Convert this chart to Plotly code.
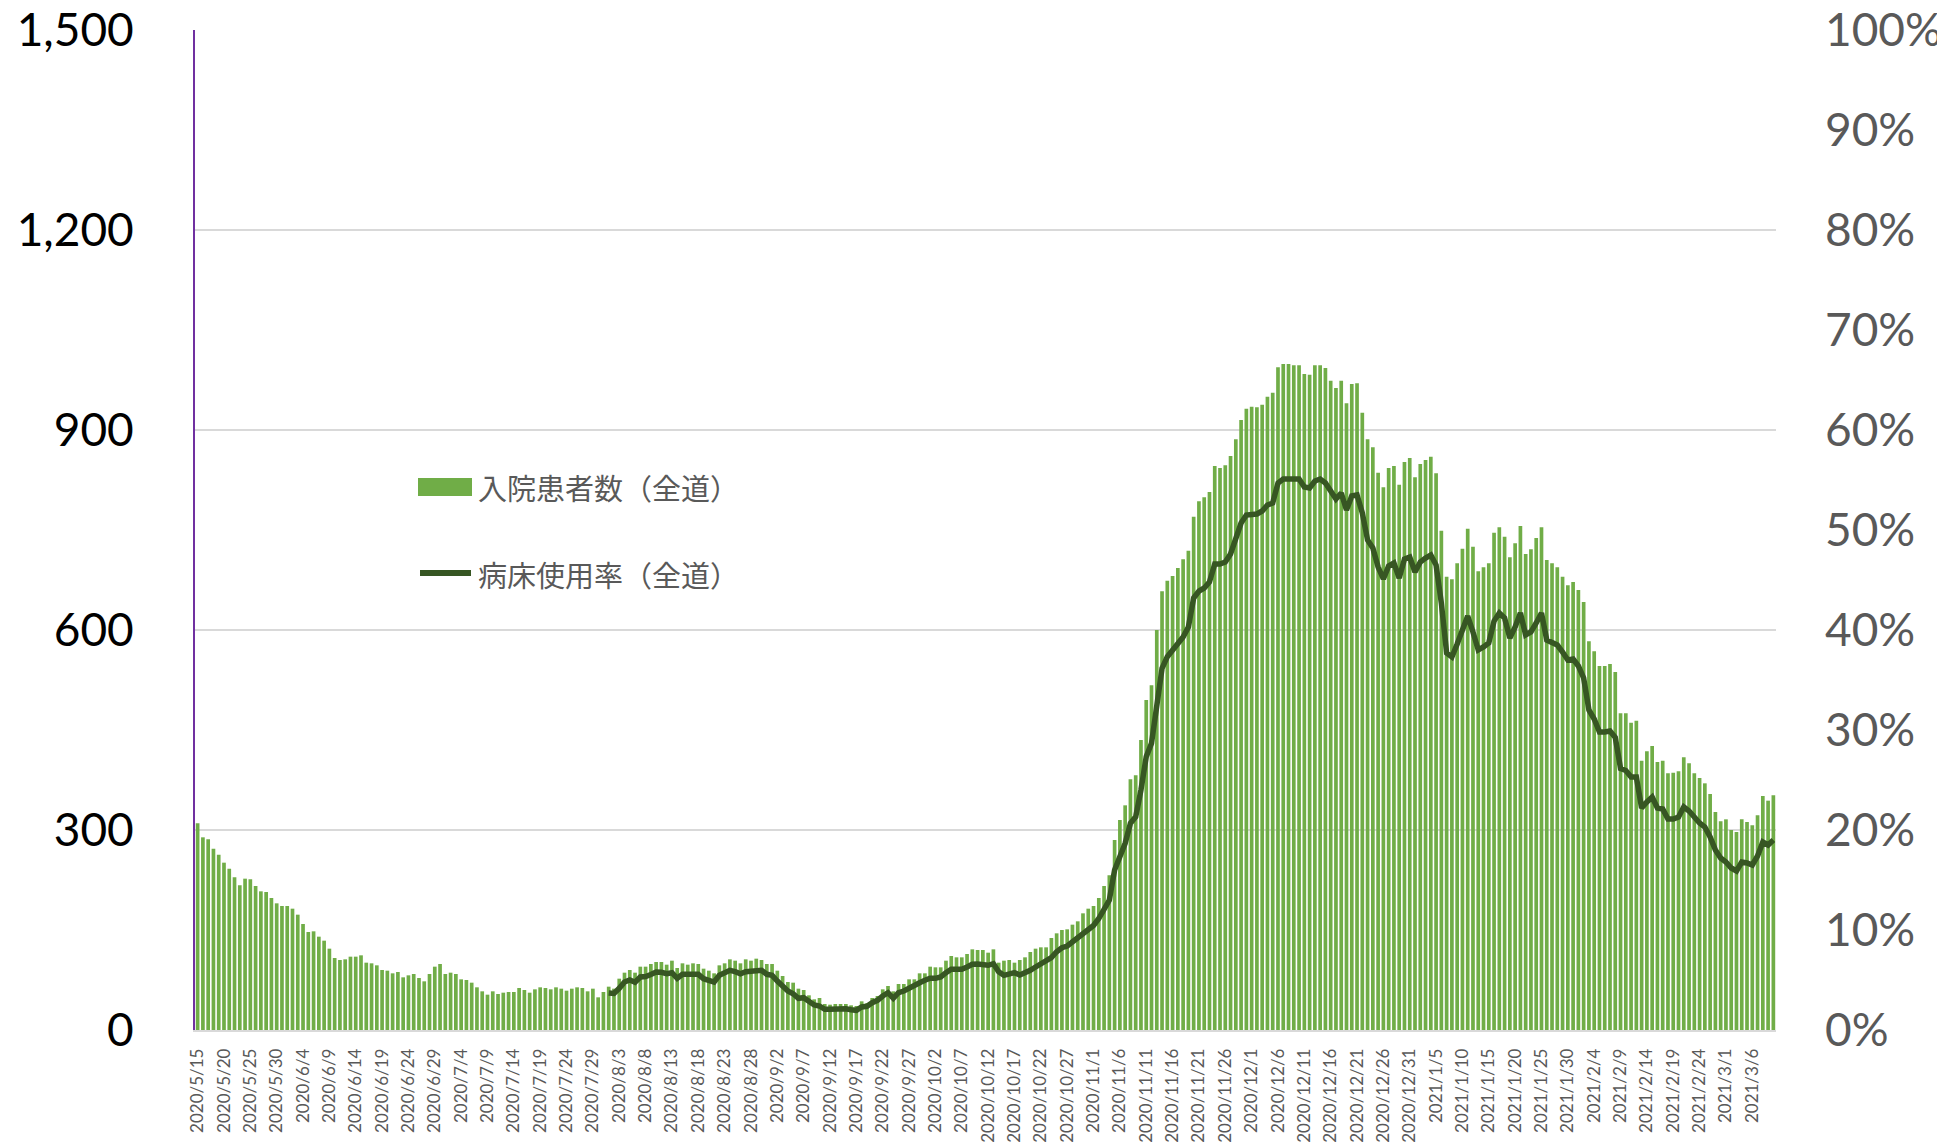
import pandas as pd
import plotly.graph_objects as go

# ---- data ----
dates = pd.date_range("2020-05-15", "2021-03-10", freq="D")
categories = [f"{d.year}/{d.month}/{d.day}" for d in dates]
tick_labels = categories[::5]

inpatients = [
    310, 289, 286, 272, 263, 251, 242, 229, 217, 227,
    226, 216, 208, 207, 198, 190, 186, 186, 182, 173,
    159, 147, 148, 140, 134, 122, 108, 105, 106, 110,
    110, 112, 101, 100, 97, 90, 89, 85, 87, 79,
    82, 84, 78, 73, 84, 95, 99, 84, 86, 84,
    76, 75, 71, 64, 58, 53, 58, 54, 56, 57,
    57, 63, 60, 56, 61, 64, 63, 61, 64, 62,
    59, 62, 64, 63, 58, 62, 49, 57, 65, 62,
    77, 86, 90, 86, 95, 95, 99, 102, 102, 98,
    104, 93, 100, 98, 100, 99, 92, 89, 85, 97,
    100, 106, 104, 100, 106, 104, 107, 105, 99, 99,
    89, 81, 72, 71, 62, 60, 52, 46, 48, 39,
    38, 39, 39, 39, 37, 36, 43, 40, 48, 51,
    61, 66, 58, 69, 69, 76, 76, 85, 85, 95,
    94, 94, 104, 111, 109, 109, 114, 121, 120, 120,
    116, 121, 101, 104, 105, 101, 105, 109, 117, 122,
    124, 124, 138, 145, 150, 151, 158, 163, 175, 182,
    186, 198, 216, 232, 285, 315, 337, 376, 382, 435,
    495, 517, 600, 658, 674, 681, 693, 706, 719, 770,
    793, 799, 807, 846, 843, 847, 861, 886, 915, 932,
    935, 934, 938, 950, 956, 994, 999, 999, 997, 997,
    984, 983, 997, 997, 993, 974, 963, 974, 940, 969,
    970, 926, 886, 874, 836, 814, 843, 846, 818, 852,
    858, 829, 849, 855, 860, 835, 749, 680, 676, 700,
    722, 752, 725, 688, 694, 700, 746, 754, 740, 709,
    730, 756, 714, 721, 738, 754, 705, 700, 694, 680,
    667, 672, 660, 642, 583, 568, 546, 546, 549, 537,
    475, 475, 461, 464, 404, 418, 426, 402, 404, 385,
    386, 388, 409, 400, 385, 378, 370, 354, 327, 313,
    316, 300, 297, 316, 312, 307, 322, 351, 344, 352,
]

bed_rate_pct = [None] * 78 + [
    3.7, 3.65,
    4.17, 4.8, 5.0, 4.77, 5.3, 5.35, 5.55, 5.8, 5.77, 5.63,
    5.73, 5.17, 5.57, 5.57, 5.57, 5.57, 5.13, 4.97, 4.8, 5.47,
    5.67, 5.97, 5.83, 5.63, 5.83, 5.9, 5.87, 5.97, 5.57, 5.47,
    4.9, 4.4, 3.9, 3.63, 3.17, 3.23, 2.9, 2.5, 2.4, 2.07,
    2.07, 2.13, 2.17, 2.13, 2.03, 1.97, 2.3, 2.37, 2.73, 2.97,
    3.4, 3.73, 3.17, 3.73, 3.9, 4.23, 4.5, 4.73, 4.97, 5.17,
    5.17, 5.3, 5.73, 6.07, 6.07, 6.07, 6.3, 6.57, 6.6, 6.57,
    6.47, 6.63, 5.83, 5.47, 5.63, 5.73, 5.5, 5.67, 5.97, 6.3,
    6.63, 6.8, 7.25, 7.83, 8.23, 8.4, 8.83, 9.17, 9.7, 10.1,
    10.45, 11.15, 12.17, 13.0, 16.0, 17.33, 18.67, 20.67, 21.33, 24.0,
    27.33, 28.67, 32.67, 36.17, 37.33, 38.0, 38.8, 39.3, 40.3, 43.2,
    43.9, 44.2, 44.8, 46.6, 46.6, 46.8, 47.6, 49.2, 50.7, 51.5,
    51.6, 51.6, 51.9, 52.5, 52.7, 54.7, 55.1, 55.1, 55.1, 55.1,
    54.3, 54.2, 54.9, 55.1, 54.7, 53.8, 53.1, 53.7, 52.0, 53.4,
    53.5, 51.7, 49.0, 48.2, 46.3, 45.1, 46.4, 46.7, 45.2, 47.1,
    47.3, 45.8, 46.8, 47.2, 47.5, 46.5, 42.7, 37.7, 37.3, 38.6,
    39.9, 41.4, 39.8, 38.0, 38.3, 38.7, 40.9, 41.7, 41.2, 39.2,
    40.3, 41.7, 39.5, 39.8, 40.7, 41.7, 39.0, 38.8, 38.5, 37.8,
    37.0, 37.1, 36.4, 35.2, 32.0, 31.1, 29.8, 29.8, 29.9, 29.25,
    26.15, 25.95, 25.3, 25.3, 22.2, 22.8, 23.3, 22.2, 22.1, 21.1,
    21.1, 21.3, 22.3, 21.9, 21.2, 20.7, 20.3, 19.3, 18.0, 17.2,
    16.8, 16.2, 15.9, 16.8, 16.7, 16.5, 17.4, 18.8, 18.5, 19.0,
]

left_ticks = [0, 300, 600, 900, 1200, 1500]
left_tick_text = ["0", "300", "600", "900", "1,200", "1,500"]
right_ticks = [0, 10, 20, 30, 40, 50, 60, 70, 80, 90, 100]
right_tick_text = ["0%", "10%", "20%", "30%", "40%", "50%",
                   "60%", "70%", "80%", "90%", "100%"]

series_names = ["入院患者数（全道）", "病床使用率（全道）"]

BAR_COLOR = "#70AD47"
LINE_COLOR = "#375623"
GRAY = "#595959"

fig = go.Figure()
fig.add_trace(go.Bar(
    x=categories, y=inpatients, name=series_names[0],
    marker=dict(color=BAR_COLOR, line=dict(width=0)),
    showlegend=False, yaxis="y",
))
fig.add_trace(go.Scatter(
    x=categories, y=bed_rate_pct, name=series_names[1], mode="lines",
    line=dict(color=LINE_COLOR, width=5.5), connectgaps=False,
    showlegend=False, yaxis="y2",
))

# manual legend (paper coords)
L, R, T, B = 195, 1776, 30, 1030
def px(x):
    return (x - L) / (R - L)
def py(y):
    return (B - y) / (B - T)

fig.add_shape(type="rect", xref="paper", yref="paper",
              x0=px(418), x1=px(472), y0=py(496), y1=py(478),
              fillcolor=BAR_COLOR, line=dict(width=0))
fig.add_shape(type="line", xref="paper", yref="paper",
              x0=px(420), x1=px(471), y0=py(573), y1=py(573),
              line=dict(color=LINE_COLOR, width=6))
for txt, yy in [(series_names[0], 487), (series_names[1], 574)]:
    fig.add_annotation(text=txt, xref="paper", yref="paper",
                       x=px(476), y=py(yy), xanchor="left", yanchor="middle",
                       showarrow=False,
                       font=dict(family="Noto Sans CJK JP", size=29, color=GRAY))

fig.update_layout(
    width=1937, height=1142,
    margin=dict(l=L, r=1937 - R, t=T, b=1142 - B, autoexpand=False),
    paper_bgcolor="white", plot_bgcolor="white",
    bargap=0.3,
    showlegend=False,
    xaxis=dict(
        type="category", categoryorder="array", categoryarray=categories,
        range=[-0.5, len(categories) - 0.5],
        tickmode="array", tickvals=tick_labels, ticktext=tick_labels,
        tickangle=-90, ticks="", showgrid=False,
        tickfont=dict(family="Lato", size=17, color=GRAY),
        showline=True, linecolor="#d9d9d9", linewidth=1.5,
        ticklabelstandoff=10, automargin=False,
    ),
    yaxis=dict(
        range=[0, 1500], tickmode="array", tickvals=left_ticks,
        ticktext=left_tick_text, ticks="",
        tickfont=dict(family="Lato", size=46, color="black"),
        showgrid=True, gridcolor="#d9d9d9", gridwidth=1.5,
        zeroline=False, showline=True, linecolor="#7030A0", linewidth=2,
        ticklabelstandoff=50, automargin=False,
    ),
    yaxis2=dict(
        range=[0, 100], overlaying="y", side="right",
        tickmode="array", tickvals=right_ticks, ticktext=right_tick_text,
        ticks="",
        tickfont=dict(family="Lato", size=46, color=GRAY),
        showgrid=False, zeroline=False, showline=False,
        ticklabelstandoff=48, automargin=False,
    ),
)

fig.write_html("out.html", config={"displayModeBar": False},
               post_script="document.body.style.margin='0';")
